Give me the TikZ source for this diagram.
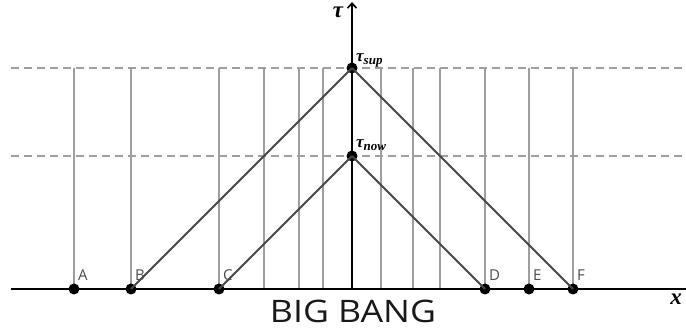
\documentclass[tikz,border=0pt]{standalone}
\usepackage{fontspec}
\newfontfamily\labfont{Open Sans}
\newfontfamily\taufont{Liberation Serif}
\newcommand{\tausub}[1]{{\taufont\bfseries\itshape\fontsize{17}{19}\selectfont τ\raisebox{-3pt}{\fontsize{13}{15}\selectfont #1}}}
\usetikzlibrary{arrows.meta}
\begin{document}
\begin{tikzpicture}[x=1pt,y=-1pt,
  dot/.style={circle,fill=black,inner sep=0pt,minimum size=11pt},
  vline/.style={draw=black!38,line width=1.1pt},
  dashline/.style={draw=black!38,dash pattern=on 8pt off 5pt,line width=1.1pt},
  cone/.style={draw=black!72,line width=2pt},
  axisline/.style={draw=black,line width=1.6pt},
  ptlabel/.style={font=\labfont\fontsize{15}{17}\selectfont,text=black!70,anchor=base west,inner sep=0pt},
  taulabel/.style={anchor=base west,inner sep=0pt},
  biglabel/.style={inner sep=0pt,anchor=base,font=\taufont\bfseries\itshape\fontsize{23}{25}\selectfont},
]
\useasboundingbox (0,0) rectangle (686,331);
% dashed horizontal levels
\coordinate (dsL) at (11,68);  \coordinate (dsR) at (686,68);
\coordinate (dnL) at (11,156); \coordinate (dnR) at (686,156);
\draw[dashline] (dsL) -- (dsR);
\draw[dashline] (dnL) -- (dnR);
% vertical world lines
\foreach \xx in {74,131,219,264,299,323,381,413,440,485,529,573}
  \draw[vline] (\xx,68) -- (\xx,289);
% axes
\coordinate (xL) at (11,289); \coordinate (xR) at (686,289);
\coordinate (O) at (352,289); \coordinate (tTop) at (352,2);
\draw[axisline] (xL) -- (xR);
\draw[axisline,-{Straight Barb[length=5pt,width=9pt]}] (O) -- (tTop);
% points
\node[dot] (A) at (74,289) {};
\node[dot] (B) at (131,289) {};
\node[dot] (C) at (219,289) {};
\node[dot] (D) at (485,289) {};
\node[dot] (E) at (529,289) {};
\node[dot] (F) at (573,289) {};
\node[dot] (tsup) at (352,68) {};
\node[dot] (tnow) at (352,156) {};
% light cones
\draw[cone] (tsup.center) -- (B.center);
\draw[cone] (tsup.center) -- (F.center);
\draw[cone] (tnow.center) -- (C.center);
\draw[cone] (tnow.center) -- (D.center);
% labels
\node[ptlabel] (lA) at (78,281) {A};
\node[ptlabel] (lB) at (135,281) {B};
\node[ptlabel] (lC) at (223,281) {C};
\node[ptlabel] (lD) at (489,281) {D};
\node[ptlabel] (lE) at (533,281) {E};
\node[ptlabel] (lF) at (577,281) {F};
\node[taulabel] (lsup) at (356,62) {\tausub{sup}};
\node[taulabel] (lnow) at (356,148) {\tausub{now}};
\node[biglabel] (ltau) at (338,18) {τ};
\node[biglabel] (lx) at (676,305) {x};
\node[font=\labfont\fontsize{31}{33}\selectfont,inner sep=0pt,text=black!90,transform shape,xscale=1.15] (bb) at (353,311) {BIG BANG};
\end{tikzpicture}
\end{document}
